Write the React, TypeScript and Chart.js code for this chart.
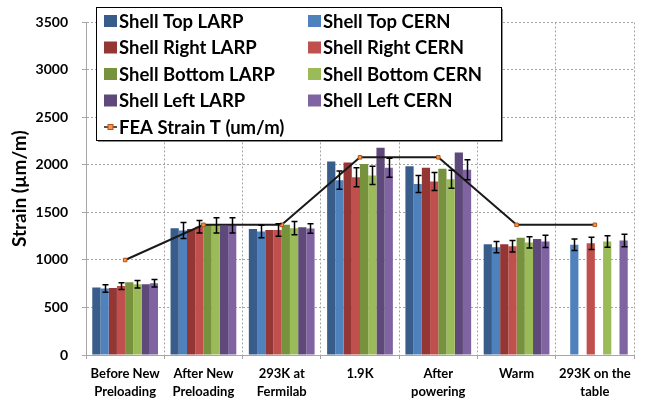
import React, { useEffect, useRef } from "react";
import { Chart, registerables } from "chart.js";

Chart.register(...registerables);

const categories: (string | string[])[] = [
  ["Before New", "Preloading"],
  ["After New", "Preloading"],
  ["293K at", "Fermilab"],
  "1.9K",
  ["After", "powering"],
  "Warm",
  ["293K on the", "table"],
];

const yTicks = [0, 500, 1000, 1500, 2000, 2500, 3000, 3500];

const topLarp = [710, 1335, 1325, 2035, 1985, 1165, null];
const topCern = [700, 1310, 1300, 1840, 1800, 1135, 1160];
const rightLarp = [705, 1325, 1315, 2025, 1970, 1165, null];
const rightCern = [725, 1350, 1315, 1870, 1825, 1145, 1175];
const bottomLarp = [765, 1370, 1370, 2010, 1960, 1235, null];
const bottomCern = [745, 1365, 1335, 1890, 1850, 1185, 1195];
const leftLarp = [745, 1360, 1345, 2180, 2130, 1220, null];
const leftCern = [755, 1365, 1330, 1970, 1950, 1195, 1205];

const topCernErr = [40, 85, 65, 95, 90, 60, 60];
const rightCernErr = [35, 65, 65, 100, 95, 60, 65];
const bottomCernErr = [40, 80, 70, 95, 95, 60, 60];
const leftCernErr = [40, 80, 50, 100, 105, 65, 65];

const feaStrain = [1000, 1370, 1370, 2080, 2080, 1370, 1370];

const FONT = "Lato";

const errorBarPlugin = {
  id: "errorBars",
  afterDatasetsDraw(chart: any) {
    const { ctx } = chart;
    const y = chart.scales.y;
    chart.data.datasets.forEach((ds: any, i: number) => {
      const errs = ds.errors;
      if (!errs) return;
      const meta = chart.getDatasetMeta(i);
      meta.data.forEach((el: any, j: number) => {
        const v = ds.data[j];
        const e = errs[j];
        if (v == null || e == null) return;
        const yt = y.getPixelForValue(v + e);
        const yb = y.getPixelForValue(v - e);
        const x = Math.round(el.x) + 0.5;
        ctx.save();
        ctx.strokeStyle = "#000";
        ctx.lineWidth = 1.5;
        ctx.beginPath();
        ctx.moveTo(x, yt);
        ctx.lineTo(x, yb);
        ctx.moveTo(x - 3, yt);
        ctx.lineTo(x + 3, yt);
        ctx.moveTo(x - 3, yb);
        ctx.lineTo(x + 3, yb);
        ctx.stroke();
        ctx.restore();
      });
    });
  },
};

const legendPlugin = {
  id: "boxLegend",
  afterDraw(chart: any) {
    const { ctx, chartArea } = chart;
    const ds = chart.data.datasets;
    const bx = chartArea.left + 10;
    const by = 7;
    const bw = 405;
    const bh = 133;
    ctx.save();
    ctx.fillStyle = "#8c8c8c";
    ctx.fillRect(bx + 2, by + 2, bw, bh);
    ctx.fillStyle = "#fff";
    ctx.fillRect(bx, by, bw, bh);
    ctx.strokeStyle = "#000";
    ctx.lineWidth = 1;
    ctx.strokeRect(bx + 0.5, by + 0.5, bw, bh);
    ctx.font = `bold 18.5px ${FONT}`;
    ctx.textBaseline = "middle";
    ctx.fillStyle = "#000";
    const bars = ds.filter((d: any) => d.type !== "line");
    const line = ds.find((d: any) => d.type === "line");
    const colX = [bx + 8, bx + 212];
    const rowY0 = by + 14;
    const rowStep = 26.5;
    bars.forEach((d: any, k: number) => {
      const col = k % 2;
      const row = Math.floor(k / 2);
      const sx = colX[col];
      const cy = rowY0 + row * rowStep;
      ctx.fillStyle = d.backgroundColor;
      ctx.fillRect(sx, cy - 6, 13, 12);
      ctx.fillStyle = "#000";
      ctx.fillText(d.label, sx + 15, cy + 1);
    });
    if (line) {
      const cy = rowY0 + 4 * rowStep;
      const sx = colX[0];
      ctx.strokeStyle = line.borderColor;
      ctx.lineWidth = 1.5;
      ctx.beginPath();
      ctx.moveTo(sx, cy);
      ctx.lineTo(sx + 13, cy);
      ctx.stroke();
      ctx.fillStyle = line.pointBackgroundColor;
      ctx.strokeStyle = line.pointBorderColor;
      ctx.lineWidth = 1;
      ctx.fillRect(sx + 4, cy - 2.5, 5, 5);
      ctx.strokeRect(sx + 4, cy - 2.5, 5, 5);
      ctx.fillStyle = "#000";
      ctx.fillText(line.label, sx + 15, cy + 1);
    }
    ctx.restore();
  },
};

export default function App() {
  const ref = useRef<HTMLCanvasElement | null>(null);

  useEffect(() => {
    document.body.style.margin = "0";
    if (!ref.current) return;
    Chart.defaults.font.family = FONT;
    Chart.defaults.color = "#000";
    const bar = (label: string, data: any[], color: string, errors?: number[]) => ({
      type: "bar" as const,
      label,
      data,
      backgroundColor: color,
      borderWidth: 0,
      categoryPercentage: 0.84,
      barPercentage: 1.0,
      order: 1,
      errors,
    });
    const chart = new Chart(ref.current, {
      type: "bar",
      data: {
        labels: categories as any,
        datasets: [
          {
            type: "line" as const,
            label: "FEA Strain T (um/m)",
            data: feaStrain,
            borderColor: "#1a1a1a",
            borderWidth: 2,
            pointStyle: "rect",
            pointRadius: 2.5,
            pointBackgroundColor: "#f79646",
            pointBorderColor: "#b5521b",
            pointBorderWidth: 1,
            fill: false,
            order: 0,
          } as any,
          bar("Shell Top LARP", topLarp, "#385d8a"),
          bar("Shell Top CERN", topCern, "#4f81bd", topCernErr),
          bar("Shell Right LARP", rightLarp, "#943634"),
          bar("Shell Right CERN", rightCern, "#c0504d", rightCernErr),
          bar("Shell Bottom LARP", bottomLarp, "#76923c"),
          bar("Shell Bottom CERN", bottomCern, "#9bbb59", bottomCernErr),
          bar("Shell Left LARP", leftLarp, "#5f497a"),
          bar("Shell Left CERN", leftCern, "#8064a2", leftCernErr),
        ],
      },
      options: {
        animation: false,
        responsive: true,
        maintainAspectRatio: false,
        layout: { padding: { top: 17, right: 11, left: 0, bottom: 0 } },
        plugins: {
          legend: { display: false },
          tooltip: { enabled: false },
        },
        scales: {
          x: {
            grid: {
              color: "#a6a6a6",
              tickLength: 4,
              offset: true,
            },
            border: { color: "#a6a6a6", width: 1, dash: [2, 2] },
            ticks: {
              font: { family: FONT, size: 13, weight: "bold", lineHeight: 1.35 },
              color: "#000",
              padding: 6,
              maxRotation: 0,
              autoSkip: false,
            },
            afterFit: (s: any) => {
              s.height = 47;
            },
          },
          y: {
            min: 0,
            max: 3500,
            afterBuildTicks: (s: any) => {
              s.ticks = yTicks.map((v) => ({ value: v }));
            },
            grid: { color: "#a6a6a6", tickLength: 4 },
            border: { color: "#a6a6a6", width: 1, dash: [2, 2] },
            ticks: {
              font: { family: FONT, size: 14, weight: "bold" },
              color: "#000",
              padding: 14,
              callback: (v: any) => String(v),
            },
            title: {
              display: true,
              text: "Strain (µm/m)",
              font: { family: FONT, size: 19, weight: "bold" },
              color: "#000",
              padding: { top: 8, bottom: 0 },
            },
            afterFit: (s: any) => {
              s.width = 86;
            },
          },
        },
      },
      plugins: [errorBarPlugin, legendPlugin],
    } as any);
    return () => chart.destroy();
  }, []);

  return (
    <div style={{ position: "absolute", left: 0, top: 0, width: 645, height: 402 }}>
      <canvas ref={ref} />
    </div>
  );
}
